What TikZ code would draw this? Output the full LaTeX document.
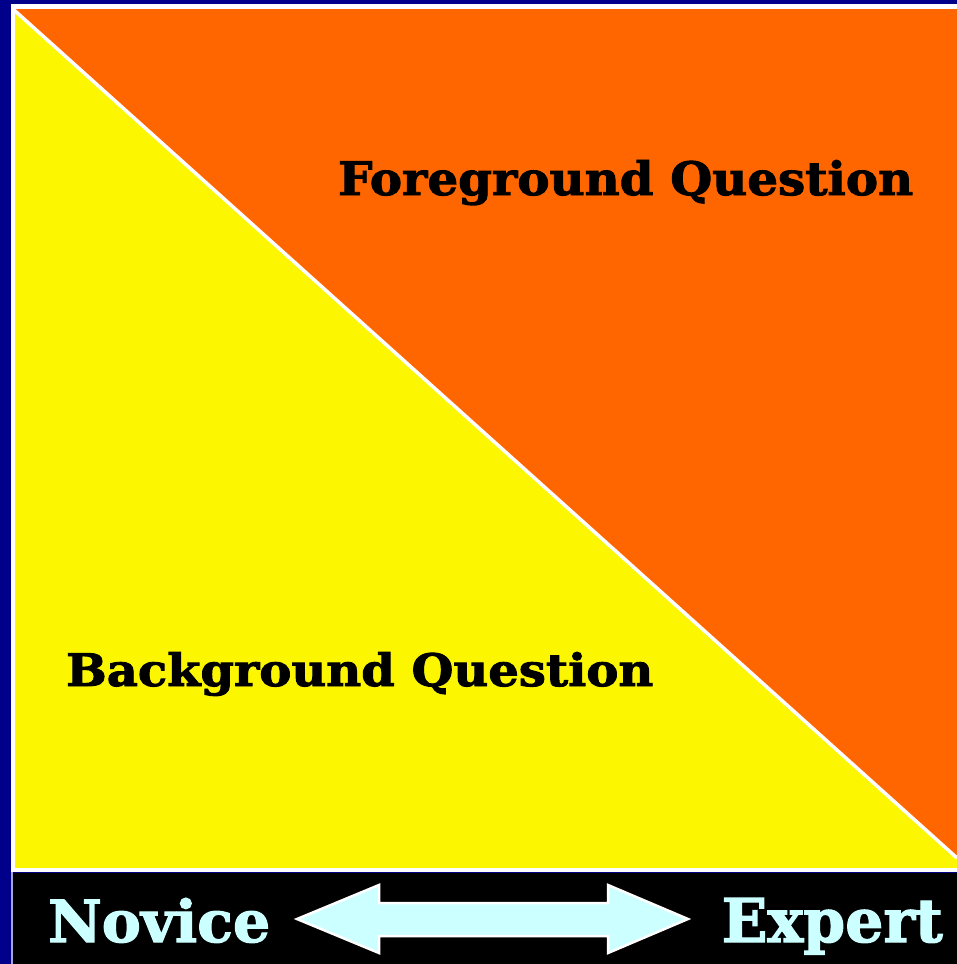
\documentclass[tikz,border=0pt]{standalone}
\usepackage{fontspec}
\setmainfont{DejaVu Serif}[BoldFeatures={FakeBold=2}]
\usepackage{graphicx}
\usetikzlibrary{positioning}
\definecolor{framenavy}{RGB}{0,0,139}
\definecolor{fgorange}{RGB}{255,102,0}
\definecolor{bgyellow}{RGB}{252,246,0}
\definecolor{palecyan}{RGB}{204,255,255}

\begin{document}
\begin{tikzpicture}[x=1pt, y=-1pt]
    \useasboundingbox (0,0) rectangle (957,964);
    \fill[framenavy] (0,0) rectangle (957,964);
    \fill[white] (11,4) rectangle (957,872);
    \fill[bgyellow] (15,9) rectangle (957,868);
    \fill[fgorange] (15,9) -- (957,9) -- (957,858) -- cycle;
    \draw[white, line width=3.5pt] (14,10) -- (957,858);
    \fill[framenavy!35!white] (11,872) rectangle (13,964);
    \fill[black] (13,873) rectangle (957,964);
    \node[anchor=base west, inner sep=0pt, font=\bfseries] (fg) at (338,195) {\resizebox{575pt}{35pt}{Foreground Question}};
    \node[anchor=base west, inner sep=0pt, font=\bfseries] (bg) at (66,686) {\resizebox{587pt}{34pt}{Background Question}};
    \node[anchor=base west, inner sep=0pt, font=\bfseries, text=palecyan] (novice) at (48,942) {\resizebox{222pt}{44pt}{Novice}};
    \node[anchor=base east, inner sep=0pt, font=\bfseries, text=palecyan] (expert) at (943,942) {\resizebox{221pt}{44pt}{Expert}};
    \filldraw[fill=palecyan, draw=white, line width=2.5pt, line join=miter]
        (297,919) -- (379,885) -- (379,903) -- (608,903) -- (608,885) -- (688,919)
        -- (608,953) -- (608,936) -- (379,936) -- (379,953) -- cycle;
\end{tikzpicture}
\end{document}
